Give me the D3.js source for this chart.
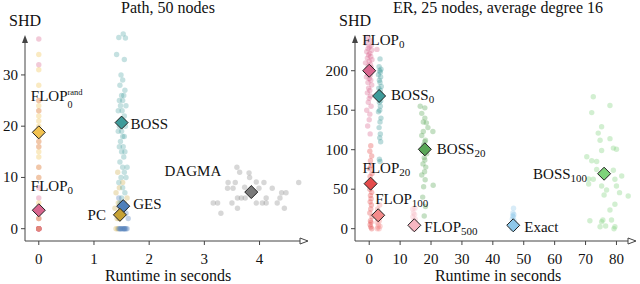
<!DOCTYPE html>
<html><head><meta charset="utf-8">
<script src="https://cdn.jsdelivr.net/npm/d3@7"></script>
<style>
html,body{margin:0;padding:0;background:#fff;}
svg text{font-family:"Liberation Serif","DejaVu Serif",serif;}
</style></head>
<body>
<svg id="chart" width="640" height="284" font-family="Liberation Serif, DejaVu Serif, serif"></svg>
<script>
// ---------- DATA: left panel "Path, 50 nodes" ----------
const leftTitle = "Path, 50 nodes";
const leftXTicks = [0, 1, 2, 3, 4];
const leftYTicks = [0, 10, 20, 30];

const pathFlop0Runtime = [0,0,0,0,0,0,0,0,0,0,0,0,0,0,0,0,0,0,0,0,0,0,0,0];
const pathFlop0Shd     = [37,32,25,23,17,16,12,10,8,6,4,2,2,0,0,0,0,0,0,0,0,0,0,0];
const pathFlopRandRuntime = [0,0,0,0,0,0,0,0,0,0,0,0,0,0,0,0,0,0,0,0];
const pathFlopRandShd     = [34,31,28,25,24,23,22,21,20,19,18,17,16,15,14,12,10,5,2,0];
const pathBossRuntime = [1.53,1.45,1.57,1.41,1.55,1.49,1.52,1.47,1.56,1.50,1.54,1.46,1.52,1.58,1.48,1.51,1.44,1.55,1.49,1.53,1.46,1.57,1.50,1.44,1.52,1.55,1.48,1.53,1.46,1.56,1.50,1.54,1.47,1.60,1.52,1.55,1.49,1.58,1.45,1.52,1.56,1.50,1.47];
const pathBossShd     = [38,37.3,37.2,34,33,30,29,28,27,26,26,25,25,24,24,23,23,22,21,21,20,20,19,19,18,18,17,16,16,15,15,14,13,12,12,11,10,10,9,8,7,6,5];
const pathGesRuntime = [1.45,1.48,1.50,1.52,1.54,1.56,1.58,1.60,1.47,1.55,1.62,1.58,1.50,1.56,1.45];
const pathGesShd     = [0,0,0,0,0,0,0,0,0,0,2,3,5,4,6];
const pathPcRuntime = [1.40,1.43,1.45,1.42,1.48,1.44,1.40,1.46,1.50,1.38,1.43,1.52,1.47,1.60,1.55];
const pathPcShd     = [0,0,2,2,3,5,7,8,5,4,11,9,3,6,5];
const pathDagmaRuntime = [3.59,3.64,3.81,3.43,3.56,3.82,3.94,4.08,4.71,3.42,3.52,3.73,4.23,3.99,4.40,3.16,3.24,3.50,3.60,3.67,3.74,3.94,4.05,4.12,4.32,4.12,4.37,4.48,3.30,3.60,4.45,3.90];
const pathDagmaShd     = [12,11,10.9,9,9,10,9.1,9,9,7.9,7.9,8.1,7.9,7.9,7,5,5,5,6,6,6,5,5,5,5,6,6,7,3,4,4,7];

const pathMeanNames   = ["FLOP0", "FLOP0rand", "BOSS", "GES", "PC", "DAGMA"];
const pathMeanRuntime = [0.0, 0.0, 1.50, 1.53, 1.47, 3.85];
const pathMeanShd     = [3.6, 18.8, 20.7, 4.4, 2.7, 7.15];

// ---------- DATA: right panel "ER, 25 nodes, average degree 16" ----------
const rightTitle = "ER, 25 nodes, average degree 16";
const rightXTicks = [0, 10, 20, 30, 40, 50, 60, 70, 80];
const rightYTicks = [0, 50, 100, 150, 200];

const erFlop0Runtime = [-0.5,0.3,-1.0,0.6,0.0,-0.4,0.8,-0.8,0.2,-0.2,0.5,-0.6,0.9,0.0,-1.2,0.4,-0.3,0.7,-0.7,0.1,0.6,-0.5,0.3,-0.9,0.0,0.5,-0.4,0.8,-0.2,0.2,-0.6,0.4,0.0,-0.3,0.6,-0.8,0.2,0.0,-0.5,0.3,2.5];
const erFlop0Shd     = [242,238,235,232,230,228,226,224,222,220,218,216,214,212,210,208,206,204,202,200,198,196,194,192,190,188,185,182,178,175,172,168,165,160,155,150,145,138,130,120,227];
const erFlop20Runtime = [0.5,0.2,0.8,0.4,0.6,0.1,0.9,0.3,0.7,0.5,0.2,0.8,0.4,0.6,0.3,0.7,0.5,0.2,0.9,0.4,0.6,0.3,0.5,0.8];
const erFlop20Shd     = [105,98,92,86,80,76,70,66,60,55,50,46,42,38,34,30,25,20,15,10,8,5,2,0];
const erFlop100Runtime = [2.6,3.2,2.8,3.5,3.0,2.5,3.3,2.9,3.6,3.1,2.7,3.4];
const erFlop100Shd     = [0,0,2,3,5,8,10,12,15,20,25,30];
const erBoss0Runtime = [3.5,3.2,3.8,3.4,3.6,3.0,3.7,3.3,3.5,3.9,3.1,3.6,3.4,3.8,3.2,3.5,3.7,3.3,3.6,3.4,3.0,3.8,3.5,3.2,3.6,3.4,3.7,3.3,3.5];
const erBoss0Shd     = [215,205,202,200,198,195,192,188,185,180,178,175,172,170,168,165,162,160,155,150,148,140,135,128,120,115,110,88,85];
const erBoss20Runtime = [16.5,18.0,17.0,18.0,17.5,18.5,19.0,20.6,17.5,17.0,18.2,18.0,17.6,18.4,17.2,18.6,17.8,18.0,17.4,18.3,17.9,17.0,18.1,17.6,20.7,17.3,18.2,17.8];
const erBoss20Shd     = [155,153,146,140,135,134,128,123,123,118,112,110,106,100,98,95,90,87,82,78,72,68,62,53,55,40,28,16];
const erBoss100Runtime = [72.5,77.9,72.0,75.2,74.1,77.9,74.7,75.2,79.0,80.0,70.4,72.0,73.6,79.0,73.6,72.5,71.0,81.7,79.5,75.2,76.8,80.0,81.0,83.8,76.0,79.5,77.9,71.4,75.2,78.4,74.7,76.5,79.5,79.2,71.0,75.6];
const erBoss100Shd     = [167,156,147,129,121,114,112,99,102,100.5,91,86,85,74,75,62.5,56.6,66.7,62.5,54,49,54,45.6,41.4,42.7,31,23.7,10,8.9,11,2.5,3.4,2.5,0,63,11];
const erFlop500Runtime = [14.2,14.8,14.0,15.2,14.5,13.8,15.0,14.4,14.9,14.1,14.7,14.3,14.1,14.8];
const erFlop500Shd     = [0,0,2,3,5,6,8,10,12,15,18,20,25,26];
const erExactRuntime = [46.2,46.8,46.5,47.0,46.0,46.6,46.9,46.3,46.7,46.4,46.8,46.5,46.7];
const erExactShd     = [0,0,2,3,5,8,10,12,15,16,18,20,26];

const erMeanNames   = ["FLOP0", "BOSS0", "BOSS20", "FLOP20", "FLOP100", "FLOP500", "Exact", "BOSS100"];
const erMeanRuntime = [0.0, 3.2, 18.0, 0.45, 2.9, 14.6, 46.6, 76.0];
const erMeanShd     = [200, 168, 100.5, 57, 17, 4.3, 4.3, 69.6];

// ---------- STYLE ----------
const FONT = "Liberation Serif, DejaVu Serif, serif";
const colors = {
  FLOP0: "#d9668f", FLOP0rand: "#f2c250", BOSS: "#3e9b9a", GES: "#4f7fba", PC: "#c7a234", DAGMA: "#7a7a7a",
  BOSS0: "#3e9b9a", BOSS20: "#59a757", BOSS100: "#7ed27a", FLOP20: "#e44b4b", FLOP100: "#f38a8a",
  FLOP500: "#f7b7c2", Exact: "#8ec8ea"
};
const labels = {
  FLOP0: {main: "FLOP", sub: "0"}, FLOP0rand: {main: "FLOP", sub: "0", sup: "rand"},
  BOSS: {main: "BOSS"}, GES: {main: "GES"}, PC: {main: "PC"}, DAGMA: {main: "DAGMA"},
  BOSS0: {main: "BOSS", sub: "0"}, BOSS20: {main: "BOSS", sub: "20"}, BOSS100: {main: "BOSS", sub: "100"},
  FLOP20: {main: "FLOP", sub: "20"}, FLOP100: {main: "FLOP", sub: "100"}, FLOP500: {main: "FLOP", sub: "500"},
  Exact: {main: "Exact"}
};

const svg = d3.select("#chart");

function zip(a, b) { return a.map((v, i) => [v, b[i]]); }
function txt(sel) { return sel.append("text").attr("font-family", FONT).attr("fill", "#111"); }

function drawPanel(cfg) {
  const x = d3.scaleLinear().domain(cfg.xDomain).range(cfg.xRange);
  const y = d3.scaleLinear().domain(cfg.yDomain).range([241, 37]);
  const g = svg.append("g");
  const x0 = cfg.xRange[0], x1 = cfg.xRange[1], yb = 241, yt = 37;

  // axes lines
  g.append("line").attr("x1", x0).attr("x2", x0).attr("y1", yb).attr("y2", yt + 3)
    .attr("stroke", "#444").attr("stroke-width", 1);
  g.append("line").attr("x1", x0).attr("x2", x1 - 3).attr("y1", yb).attr("y2", yb)
    .attr("stroke", "#444").attr("stroke-width", 1);
  g.append("path").attr("d", `M${x0},${yt - 2}L${x0 - 3},${yt + 6}L${x0 + 3},${yt + 6}Z`).attr("fill", "#444");
  g.append("path").attr("d", `M${x1 + 1},${yb}L${x1 - 7},${yb - 3}L${x1 - 7},${yb + 3}Z`)
    .attr("fill", "#fff").attr("stroke", "#444").attr("stroke-width", 1);

  // y ticks
  cfg.yTicks.forEach(t => {
    g.append("line").attr("x1", x0 - 4).attr("x2", x0).attr("y1", y(t)).attr("y2", y(t)).attr("stroke", "#444");
    txt(g).attr("x", x0 - 7).attr("y", y(t) + 5).attr("text-anchor", "end").attr("font-size", 15).text(t);
  });
  // x ticks
  cfg.xTicks.forEach(t => {
    g.append("line").attr("x1", x(t)).attr("x2", x(t)).attr("y1", yb).attr("y2", yb + 4).attr("stroke", "#444");
    txt(g).attr("x", x(t)).attr("y", 264).attr("text-anchor", "middle").attr("font-size", 15).text(t);
  });
  // titles
  txt(g).attr("x", x0).attr("y", 26).attr("text-anchor", "middle").attr("font-size", 16).text("SHD");
  txt(g).attr("x", cfg.titleX).attr("y", 13).attr("text-anchor", "middle").attr("font-size", 16).text(cfg.title);
  txt(g).attr("x", cfg.titleX).attr("y", 281).attr("text-anchor", "middle").attr("font-size", 16).text("Runtime in seconds");

  // points
  cfg.series.forEach(s => {
    g.append("g").selectAll("circle").data(zip(s.rt, s.shd)).join("circle")
      .attr("cx", d => x(d[0])).attr("cy", d => y(d[1])).attr("r", 2.7)
      .attr("fill", colors[s.name]).attr("fill-opacity", s.op || 0.35);
  });

  // mean diamonds + labels
  cfg.means.names.forEach((name, i) => {
    const cx = x(cfg.means.rt[i]), cy = y(cfg.means.shd[i]);
    g.append("path").attr("d", `M${cx},${cy - 6.5}L${cx + 6.5},${cy}L${cx},${cy + 6.5}L${cx - 6.5},${cy}Z`)
      .attr("fill", colors[name]).attr("stroke", "#222").attr("stroke-width", 1);
    const L = labels[name], off = cfg.labelOff[name];
    const lg = g.append("g");
    const main = txt(lg).attr("y", 0).attr("font-size", 15).text(L.main);
    const w = main.node().getComputedTextLength();
    let extra = 0;
    if (L.sub) {
      const st = txt(lg).attr("x", w).attr("y", L.sup ? 7 : 3).attr("font-size", L.sup ? 10 : 11).text(L.sub);
      extra = Math.max(extra, st.node().getComputedTextLength());
    }
    if (L.sup) {
      const sp = txt(lg).attr("x", w).attr("y", -6).attr("font-size", 8.5).text(L.sup);
      extra = Math.max(extra, sp.node().getComputedTextLength());
    }
    const total = w + extra;
    const sx = off.end ? cx + off.dx - total : cx + off.dx;
    lg.attr("transform", `translate(${sx},${cy + off.dy})`);
  });
}

drawPanel({
  title: leftTitle, titleX: 168, xDomain: [-0.25, 4.86], xRange: [25, 307], yDomain: [-2.4, 37.4],
  xTicks: leftXTicks, yTicks: leftYTicks,
  series: [
    {name: "FLOP0", rt: pathFlop0Runtime, shd: pathFlop0Shd},
    {name: "FLOP0rand", rt: pathFlopRandRuntime, shd: pathFlopRandShd},
    {name: "PC", rt: pathPcRuntime, shd: pathPcShd, op: 0.3},
    {name: "BOSS", rt: pathBossRuntime, shd: pathBossShd, op: 0.3},
    {name: "GES", rt: pathGesRuntime, shd: pathGesShd},
    {name: "DAGMA", rt: pathDagmaRuntime, shd: pathDagmaShd, op: 0.3}
  ],
  means: {names: pathMeanNames, rt: pathMeanRuntime, shd: pathMeanShd},
  labelOff: {
    FLOP0rand: {dx: -8, dy: -31}, FLOP0: {dx: -8, dy: -19}, BOSS: {dx: 9, dy: 6},
    GES: {dx: 10, dy: 3}, PC: {dx: -14, dy: 5, end: true}, DAGMA: {dx: -30, dy: -16, end: true}
  }
});

drawPanel({
  title: rightTitle, titleX: 498, xDomain: [-4.6, 86], xRange: [355, 635], yDomain: [-15.6, 242.7],
  xTicks: rightXTicks, yTicks: rightYTicks,
  series: [
    {name: "FLOP0", rt: erFlop0Runtime, shd: erFlop0Shd},
    {name: "FLOP20", rt: erFlop20Runtime, shd: erFlop20Shd},
    {name: "FLOP100", rt: erFlop100Runtime, shd: erFlop100Shd},
    {name: "BOSS0", rt: erBoss0Runtime, shd: erBoss0Shd},
    {name: "BOSS20", rt: erBoss20Runtime, shd: erBoss20Shd},
    {name: "BOSS100", rt: erBoss100Runtime, shd: erBoss100Shd},
    {name: "FLOP500", rt: erFlop500Runtime, shd: erFlop500Shd},
    {name: "Exact", rt: erExactRuntime, shd: erExactShd}
  ],
  means: {names: erMeanNames, rt: erMeanRuntime, shd: erMeanShd},
  labelOff: {
    FLOP0: {dx: -7, dy: -26}, BOSS0: {dx: 12, dy: 4}, BOSS20: {dx: 12, dy: 5}, FLOP20: {dx: -8, dy: -11},
    FLOP100: {dx: -3, dy: -11}, FLOP500: {dx: 10, dy: 7}, Exact: {dx: 11, dy: 7}, BOSS100: {dx: -17, dy: 5, end: true}
  }
});
</script>
</body></html>
